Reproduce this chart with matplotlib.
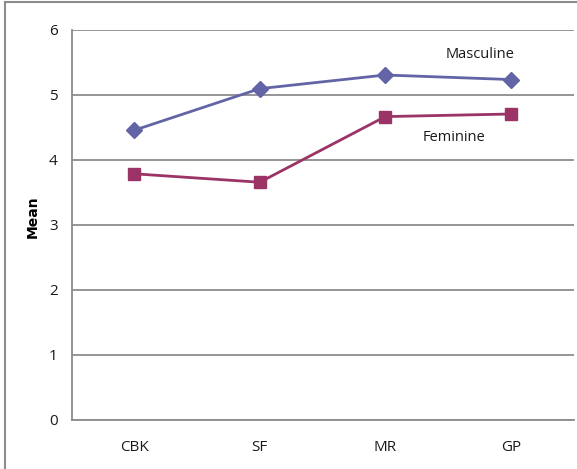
import matplotlib
matplotlib.use("Agg")
import matplotlib.pyplot as plt
from matplotlib.patches import Rectangle

categories = ["CBK", "SF", "MR", "GP"]
masculine = [4.45, 5.09, 5.30, 5.23]
feminine = [3.78, 3.65, 4.66, 4.70]
yticks = [0, 1, 2, 3, 4, 5, 6]

plt.rcParams['font.family'] = ['Open Sans', 'DejaVu Sans']

fig = plt.figure(figsize=(5.77, 4.69), dpi=100)
ax = fig.add_axes([71.5/577, 1 - 419.5/469, (573.5-71.5)/577, (419.5-29.5)/469])

# outer frame (partially visible)
fig.patches.append(Rectangle((4.5/577, -0.1), 1.2, (469-2.5)/469 + 0.1, transform=fig.transFigure,
                             fill=False, edgecolor='#8c8c8c', linewidth=1.5))

x = list(range(len(categories)))
ax.plot(x, masculine, color='#6264a6', linewidth=2.0, marker='D', markersize=8.5, zorder=3)
ax.plot(x, feminine, color='#9b3366', linewidth=2.0, marker='s', markersize=9, zorder=3)

ax.set_xlim(-0.5, 3.5)
ax.set_ylim(0, 6)
ax.set_yticks(yticks)
ax.set_yticklabels([str(v) for v in yticks])
ax.set_xticks(x)
ax.set_xticklabels(categories)
ax.yaxis.grid(True, color='#8c8c8c', linewidth=1.3)
ax.set_axisbelow(True)
for s in ['top', 'right']:
    ax.spines[s].set_visible(False)
for s in ['left', 'bottom']:
    ax.spines[s].set_color('#8c8c8c')
    ax.spines[s].set_linewidth(1.3)
ax.tick_params(axis='both', length=0, labelsize=11, colors='#1a1a1a')
ax.tick_params(axis='y', pad=10)
ax.tick_params(axis='x', pad=15)
ax.set_ylabel("Mean", fontsize=10, fontweight='bold', family=['DejaVu Sans'])
ax.yaxis.set_label_coords(-0.064, 0.519)

ax.text(2.757, 5.62, "Masculine", ha='center', va='center', fontsize=10.5, color='#1a1a1a')
ax.text(2.546, 4.34, "Feminine", ha='center', va='center', fontsize=10.5, color='#1a1a1a')

fig.savefig("out.png", dpi=100)
